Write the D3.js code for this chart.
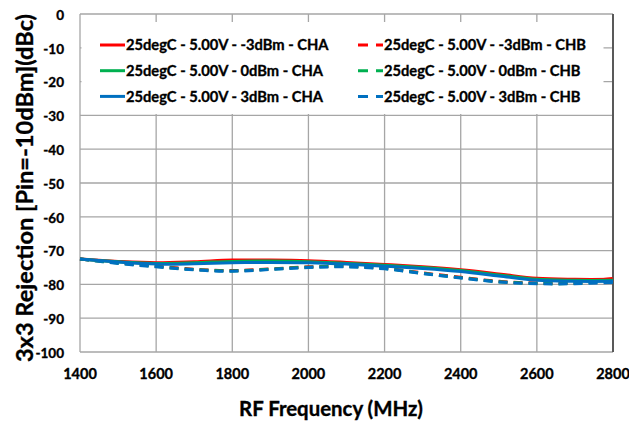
<!DOCTYPE html>
<html>
<head>
<meta charset="utf-8">
<script src="https://cdn.jsdelivr.net/npm/d3@7"></script>
<style>
    body { margin: 0; background: #fff; }
    text { font-family: Lato, "Open Sans", sans-serif; font-weight: bold; fill: #000; stroke: #000; stroke-width: 0.35px; }
</style>
</head>
<body>
<svg id="chart"></svg>
<script>
let width = 629,
    height = 422;

// frequencies (MHz)
let freqs = [1400, 1500, 1600, 1700, 1800, 1900, 2000, 2100, 2200, 2300, 2400, 2500, 2600, 2700, 2800];

// CHA (solid)
let chaM3 = [-72.5, -73.2, -73.6, -73.3, -72.8, -72.8, -73.0, -73.5, -74.1, -74.8, -75.7, -76.9, -78.2, -78.5, -78.5];
let cha0  = [-72.5, -73.3, -73.8, -73.6, -73.2, -73.1, -73.3, -73.8, -74.3, -75.0, -75.9, -77.2, -78.5, -78.8, -78.8];
let chaP3 = [-72.5, -73.4, -74.0, -73.9, -73.6, -73.5, -73.6, -74.0, -74.6, -75.3, -76.2, -77.5, -78.8, -79.1, -79.1];

// CHB (dashed)
let chbM3 = [-72.5, -73.6, -74.6, -75.5, -75.9, -75.4, -74.8, -74.6, -75.2, -76.6, -77.9, -79.1, -79.6, -79.5, -78.2];
let chb0  = [-72.5, -73.7, -74.7, -75.6, -76.0, -75.5, -74.9, -74.7, -75.3, -76.7, -78.0, -79.2, -79.7, -79.7, -78.9];
let chbP3 = [-72.5, -73.8, -74.8, -75.7, -76.1, -75.6, -75.0, -74.8, -75.4, -76.8, -78.1, -79.3, -79.8, -79.8, -79.4];

let xTicks = [1400, 1600, 1800, 2000, 2200, 2400, 2600, 2800];
let yTicks = [0, -10, -20, -30, -40, -50, -60, -70, -80, -90, -100];

let seriesNames = [
    "25degC - 5.00V - -3dBm - CHA",
    "25degC - 5.00V - 0dBm - CHA",
    "25degC - 5.00V - 3dBm - CHA",
    "25degC - 5.00V - -3dBm - CHB",
    "25degC - 5.00V - 0dBm - CHB",
    "25degC - 5.00V - 3dBm - CHB"
];
let seriesColors = ["#ff0000", "#00b050", "#0070c0", "#ff0000", "#00b050", "#0070c0"];
let seriesValues = [chaM3, cha0, chaP3, chbM3, chb0, chbP3];

let margin = {left: 80, top: 14, right: 629 - 613, bottom: 422 - 352};

let x = d3.scaleLinear()
    .domain([1400, 2800])
    .range([margin.left, width - margin.right]);

let y = d3.scaleLinear()
    .domain([-100, 0])
    .range([height - margin.bottom, margin.top]);

let svg = d3.select('#chart')
    .attr('width', width)
    .attr('height', height);

// gridlines
svg.append('g')
    .selectAll('line')
    .data(xTicks)
    .enter()
    .append('line')
    .attr('x1', d => x(d)).attr('x2', d => x(d))
    .attr('y1', y(0)).attr('y2', y(-100))
    .style('stroke', '#a6a6a6')
    .style('stroke-width', 1.3);

svg.append('g')
    .selectAll('line')
    .data(yTicks)
    .enter()
    .append('line')
    .attr('x1', x(1400)).attr('x2', x(2800))
    .attr('y1', d => y(d)).attr('y2', d => y(d))
    .style('stroke', '#a6a6a6')
    .style('stroke-width', 1.3);

// right border is darker
svg.append('line')
    .attr('x1', x(2800)).attr('x2', x(2800))
    .attr('y1', y(0)).attr('y2', y(-100))
    .style('stroke', '#595959')
    .style('stroke-width', 2);

// legend box hides the grid behind it
svg.append('rect')
    .attr('x', x(1400) + 1.5)
    .attr('y', 22)
    .attr('width', 522)
    .attr('height', 92)
    .style('fill', '#fff');

// axis labels
svg.append('g')
    .selectAll('text')
    .data(yTicks)
    .enter()
    .append('text')
    .attr('x', 64)
    .attr('y', d => y(d) + 1)
    .attr('dy', '0.35em')
    .attr('text-anchor', 'end')
    .style('font-size', '13.5px')
    .text(d => d);

svg.append('g')
    .selectAll('text')
    .data(xTicks)
    .enter()
    .append('text')
    .attr('x', d => x(d))
    .attr('y', 374)
    .attr('dy', '0.35em')
    .attr('text-anchor', 'middle')
    .style('font-size', '14.5px')
    .text(d => d);

svg.append('text')
    .attr('x', 331)
    .attr('y', 409)
    .attr('dy', '0.35em')
    .attr('text-anchor', 'middle')
    .style('font-size', '20.4px')
    .text('RF Frequency (MHz)');

svg.append('text')
    .attr('transform', 'translate(25,188) rotate(-90)')
    .attr('dy', '0.35em')
    .attr('text-anchor', 'middle')
    .style('font-size', '23.6px')
    .text('3x3 Rejection [Pin=-10dBm](dBc)');

// the curves
let line = d3.line()
    .x((d, i) => x(freqs[i]))
    .y(d => y(d))
    .curve(d3.curveCatmullRom);

// dashed first so the solid lines sit on top
let order = [3, 4, 5, 0, 1, 2];
svg.append('g')
    .selectAll('path')
    .data(order)
    .enter()
    .append('path')
    .attr('d', i => line(seriesValues[i]))
    .style('fill', 'none')
    .style('stroke', i => seriesColors[i])
    .style('stroke-width', 3)
    .style('stroke-dasharray', i => i >= 3 ? '9,6' : null);

// legend
let legend = svg.append('g')
    .selectAll('g')
    .data(d3.range(6))
    .enter()
    .append('g')
    .attr('transform', i => 'translate(' + (i < 3 ? 100 : 358) + ',' + (45 + (i % 3) * 25.7) + ')');

legend.append('line')
    .attr('x1', 0).attr('x2', 25)
    .style('stroke', i => seriesColors[i])
    .style('stroke-width', 3)
    .style('stroke-dasharray', i => i >= 3 ? '10,8' : null);

legend.append('text')
    .attr('x', 26)
    .attr('dy', '0.35em')
    .style('font-size', '14.7px')
    .text(i => seriesNames[i]);
</script>
</body>
</html>
